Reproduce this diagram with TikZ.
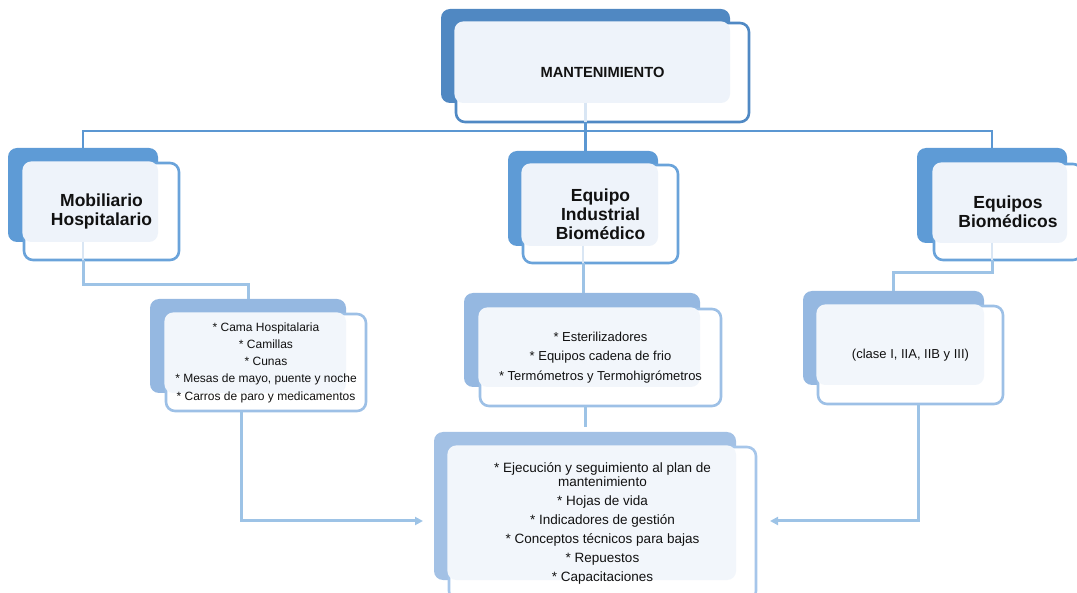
\documentclass[tikz,border=0pt]{standalone}
\usepackage{fontspec}
\setmainfont{Liberation Sans}
\usetikzlibrary{arrows.meta,calc,fit}
\definecolor{Aback}{HTML}{5088C2}
\definecolor{Aline}{HTML}{5089C4}
\definecolor{Apale}{HTML}{EEF3FA}
\definecolor{Bback}{HTML}{5E9BD6}
\definecolor{Bline}{HTML}{6AA3DA}
\definecolor{Bpale}{HTML}{EEF3FA}
\definecolor{Cback}{HTML}{95B8E1}
\definecolor{Cline}{HTML}{9DC0E6}
\definecolor{Cpale}{HTML}{F2F6FB}
\definecolor{Dback}{HTML}{A3C1E5}
\definecolor{Dline}{HTML}{A6C6EA}
\definecolor{Dpale}{HTML}{F2F6FB}
\definecolor{conA}{HTML}{5B97D2}
\definecolor{conB}{HTML}{9DC3E6}
\definecolor{faint}{HTML}{D9E6F4}
\definecolor{txt}{HTML}{111111}
\newcommand\dbox[8]{%
  \node[fit={(#2) (#3)}, backbox, fill=#6back] (#1B) {};
  \node[fit={(#4) (#5)}, frontbox, draw=#6line] (#1F) {};
  \fill[#6pale, rounded corners=9pt] ($(#1F.north west)+(-1.6,-1.6)$) rectangle (#1B.south east);
  \node[#7] (#1T) at (#1F.center) {#8};
}
\begin{document}
\begin{tikzpicture}[x=1pt,y=-1pt,
  backbox/.style={rounded corners=9pt, inner sep=0pt, outer sep=0pt},
  frontbox/.style={rounded corners=9pt, inner sep=0pt, outer sep=0pt, fill=white, line width=2.6pt},
  ttl/.style={align=center, text=txt, font=\fontsize{17.5}{18.8}\selectfont\bfseries},
  toptxt/.style={align=center, text=txt, font=\fontsize{14.7}{16}\selectfont\bfseries},
  lstA/.style={align=center, text=txt, font=\fontsize{12}{17.3}\selectfont},
  lstB/.style={align=center, text=txt, font=\fontsize{13}{19.5}\selectfont},
  lstD/.style={align=center, text=txt, font=\fontsize{13.5}{14}\selectfont},
  conn/.style={draw=conA, line width=2.6pt},
  connB/.style={draw=conB, line width=3pt},
  faintc/.style={draw=faint, line width=2.6pt},
  arr/.style={connB, -{Triangle[length=8pt,width=8pt]}}
]
\useasboundingbox (0,0) rectangle (1077,593);
\clip (0,0) rectangle (1077,593);

% top
\dbox{top}{441,9}{730,103}{456,23}{749,122}{A}{toptxt}{MANTENIMIENTO}
% level 2
\dbox{mob}{8,148}{158,242}{24,163}{179,260}{B}{ttl}{Mobiliario\\Hospitalario}
\dbox{ind}{508,151}{658,246}{523,165}{678,263}{B}{ttl}{Equipo\\Industrial\\Biomédico}
\dbox{bio}{917,148}{1067,243}{934,164}{1082,260}{B}{ttl}{Equipos\\Biomédicos}
% level 3
\dbox{mobl}{150,299}{346,393}{166,314}{366,411}{C}{lstA}{* Cama Hospitalaria\\* Camillas\\* Cunas\\* Mesas de mayo, puente y noche\\* Carros de paro y medicamentos}
\dbox{indl}{464,293}{700,387}{480,309}{721,406}{C}{lstB}{* Esterilizadores\\* Equipos cadena de frio\\* Termómetros y Termohigrómetros}
\dbox{biol}{803,291}{984,385}{818,306}{1003,404}{C}{lstB}{(clase I, IIA, IIB y III)}
% bottom
\dbox{bot}{434,432}{736,580}{449,447}{756,600}{D}{lstD}{* Ejecución y seguimiento al plan de\\mantenimiento\\[5pt]* Hojas de vida\\[5pt]* Indicadores de gestión\\[5pt]* Conceptos técnicos para bajas\\[5pt]* Repuestos\\[5pt]* Capacitaciones}

% connectors top -> level 2
\coordinate (bus) at (0,131);
\draw[faintc] (topB.south) -- (topB.south |- topF.south);
\draw[conn] (topB.south |- topF.south) -- (topB.south |- bus);
\draw[conn] (mobB.north) -- (mobB.north |- bus) -- (bioB.north |- bus) -- (bioB.north);
\draw[conn] (topB.south |- bus) -- (topB.south |- indB.north);

% level 2 -> level 3
\draw[faintc] (mobB.south) -- (mobB.south |- mobF.south);
\draw[connB] (mobB.south |- mobF.south) -- ($(mobB.south |- mobF.south)+(0,25)$) -| (moblB.north);
\draw[faintc] (indB.south) -- (indB.south |- indF.south);
\draw[connB] (indB.south |- indF.south) -- (indB.south |- indlB.north);
\draw[faintc] (bioB.south) -- (bioB.south |- bioF.south);
\draw[connB] (bioB.south |- bioF.south) -- ($(bioB.south |- bioF.south)+(0,13)$) -| (biolB.north);

% level 3 -> bottom
\coordinate (la) at (241,0);
\coordinate (ra) at (918,0);
\coordinate (lvl) at (0,521);
\draw[arr] (la |- moblF.south) -- (la |- lvl) -- ($(botB.west |- lvl)+(-11,0)$);
\draw[arr] (ra |- biolF.south) -- (ra |- lvl) -- ($(botF.east |- lvl)+(14,0)$);
\draw[connB] (botB.north |- indlF.south) -- (botB.north |- 0,427);
\end{tikzpicture}
\end{document}
